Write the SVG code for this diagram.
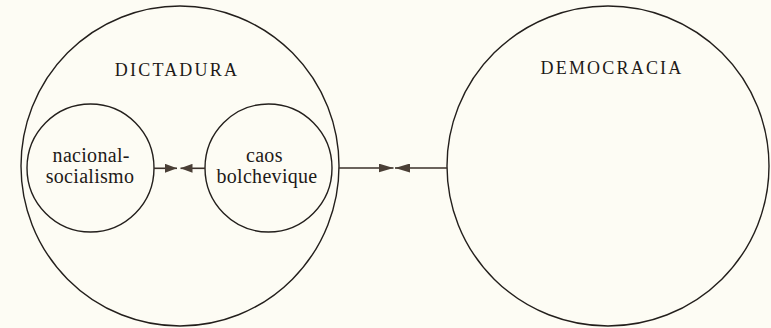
<svg xmlns="http://www.w3.org/2000/svg" width="771" height="328" viewBox="0 0 771 328">
  <style>
    .ring { fill: none; stroke: #231f1c; stroke-width: 1.4; }
    .link { fill: none; stroke: #3a302a; stroke-width: 1.6; }
    .title { font-family: "Liberation Serif", "Times New Roman", serif; font-size: 18px; letter-spacing: 2.2px; fill: #1e1a18; }
    .label { font-family: "Liberation Serif", "Times New Roman", serif; font-size: 20px; letter-spacing: 0.3px; fill: #1e1a18; }
  </style>
  <defs>
    <marker id="head-lg" markerUnits="userSpaceOnUse" markerWidth="15" markerHeight="9" refX="15" refY="4.5" orient="auto">
      <path d="M0,0 L15,4.5 L0,9 Z" fill="#4a3f36"/>
    </marker>
    <marker id="head-sm" markerUnits="userSpaceOnUse" markerWidth="12" markerHeight="9" refX="12" refY="4.5" orient="auto">
      <path d="M0,0 L12,4.5 L0,9 Z" fill="#4a3f36"/>
    </marker>
  </defs>

  <rect width="771" height="328" fill="#fdfcf4"/>

  <!-- outer regime: dictatorship -->
  <g id="dictadura">
    <ellipse class="ring" cx="180" cy="166" rx="159" ry="160"/>
    <text class="title" x="177" y="76" text-anchor="middle">DICTADURA</text>
  </g>

  <!-- outer regime: democracy -->
  <g id="democracia">
    <ellipse class="ring" cx="608" cy="166" rx="161" ry="160"/>
    <text class="title" x="612" y="74" text-anchor="middle">DEMOCRACIA</text>
  </g>

  <!-- inner sets of the dictatorship -->
  <g id="nacional-socialismo">
    <ellipse class="ring" cx="90.5" cy="168" rx="63.5" ry="64"/>
    <text class="label" x="52.6" y="162">nacional-</text>
    <text class="label" x="90" y="183.3" text-anchor="middle">socialismo</text>
  </g>

  <g id="caos-bolchevique">
    <ellipse class="ring" cx="268.5" cy="168" rx="63.5" ry="64"/>
    <text class="label" x="246" y="162">caos</text>
    <text class="label" x="267" y="183.3" text-anchor="middle">bolchevique</text>
  </g>

  <!-- opposing arrows meeting halfway -->
  <g id="connectors">
    <line class="link" x1="154" y1="168.3" x2="177" y2="168.3" marker-end="url(#head-sm)"/>
    <line class="link" x1="205" y1="168.3" x2="180.5" y2="168.3" marker-end="url(#head-sm)"/>
    <line class="link" x1="339" y1="168" x2="393.5" y2="168" marker-end="url(#head-lg)"/>
    <line class="link" x1="447" y1="168" x2="395" y2="168" marker-end="url(#head-lg)"/>
  </g>
</svg>
